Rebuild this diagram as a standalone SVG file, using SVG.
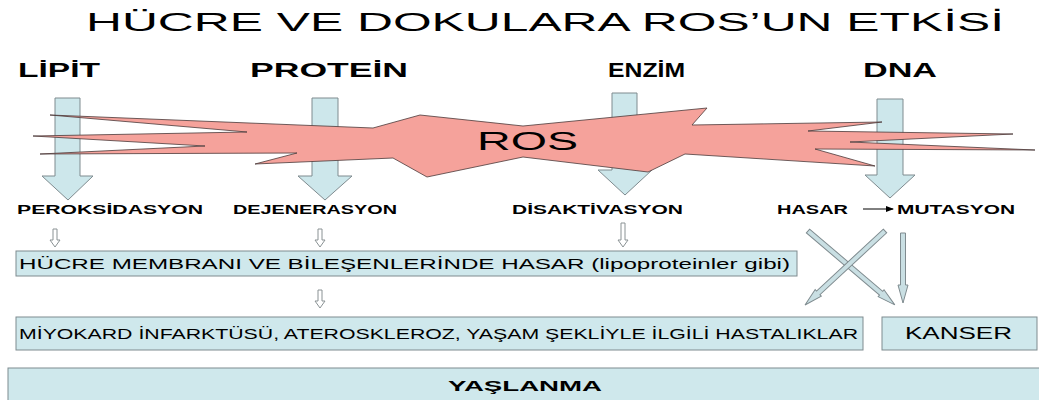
<svg xmlns="http://www.w3.org/2000/svg" width="1039" height="400" viewBox="0 0 1039 400">
<style>
text{font-family:"Liberation Sans",Arial,sans-serif;fill:#000}
.b{font-weight:bold}
.big{fill:#cde7eb;stroke:#7f8b8f;stroke-width:1}
.box{fill:#cfe8ec;stroke:#7f8b8f;stroke-width:1}
.sm{fill:#ffffff;stroke:#8a9294;stroke-width:1}
.dg{fill:#c9dfe3;stroke:#7f8b8f;stroke-width:1}
.ros{fill:#f5a29b;stroke:#4a3a3a;stroke-width:0.8;stroke-linejoin:miter}
</style>
<defs>
<marker id="ah" markerWidth="8" markerHeight="6" refX="7" refY="3" orient="auto" markerUnits="userSpaceOnUse">
<path d="M0,0 L8,3 L0,6 Z" fill="#000"/>
</marker>
</defs>
<rect width="1039" height="400" fill="#ffffff"/>
<text x="86" y="31" font-size="25" textLength="918" lengthAdjust="spacingAndGlyphs">HÜCRE VE DOKULARA ROS’UN ETKİSİ</text>
<g id="lipit">
<text class="b" x="18" y="77" font-size="20" textLength="82" lengthAdjust="spacingAndGlyphs">LİPİT</text>
<polygon class="big" points="55,98 80,98 80,176 93,176 68,200 42,176 55,176"/>
</g>
<g id="protein">
<text class="b" x="250" y="77" font-size="20" textLength="158" lengthAdjust="spacingAndGlyphs">PROTEİN</text>
<polygon class="big" points="312,98 338,98 338,176 352,176 325,200 298,176 312,176"/>
</g>
<g id="enzim">
<text class="b" x="608" y="77" font-size="20" textLength="77" lengthAdjust="spacingAndGlyphs">ENZİM</text>
<polygon class="big" points="612,93 637,93 637,170 652,170 625,195 598,170 612,170"/>
</g>
<g id="dna">
<text class="b" x="863" y="77" font-size="20" textLength="74" lengthAdjust="spacingAndGlyphs">DNA</text>
<polygon class="big" points="877,99 903,99 903,175 915,175 890,198 865,175 877,175"/>
</g>
<g id="ros">
<polygon class="ros" points="50,115 373,128 420,115 523,126 707,108 692,125 882,122 808,131 1013,134 850,142 1035,150 815,149 875,166 685,154 648,172 523,157 427,177 393,158 255,164 297,153 40,154 205,146 33,136 247,132"/>
<text x="477" y="150" font-size="25" textLength="101" lengthAdjust="spacingAndGlyphs">ROS</text>
</g>
<g id="labels">
<text class="b" x="17" y="214" font-size="13" textLength="186" lengthAdjust="spacingAndGlyphs">PEROKSİDASYON</text>
<text class="b" x="233" y="214" font-size="13" textLength="164" lengthAdjust="spacingAndGlyphs">DEJENERASYON</text>
<text class="b" x="512" y="214" font-size="13" textLength="171" lengthAdjust="spacingAndGlyphs">DİSAKTİVASYON</text>
<text class="b" x="777" y="214" font-size="13" textLength="71" lengthAdjust="spacingAndGlyphs">HASAR</text>
<text class="b" x="897" y="214" font-size="13" textLength="118" lengthAdjust="spacingAndGlyphs">MUTASYON</text>
</g>
<g id="box-membran">
<rect class="box" x="16" y="251" width="781" height="25"/>
<text x="19" y="269" font-size="14" textLength="771" lengthAdjust="spacingAndGlyphs">HÜCRE MEMBRANI VE BİLEŞENLERİNDE HASAR (lipoproteinler gibi)</text>
</g>
<g id="box-hastalik">
<rect class="box" x="16" y="317" width="847" height="33"/>
<text x="19" y="339" font-size="14" textLength="839" lengthAdjust="spacingAndGlyphs">MİYOKARD İNFARKTÜSÜ, ATEROSKLEROZ, YAŞAM ŞEKLİYLE İLGİLİ HASTALIKLAR</text>
</g>
<g id="box-kanser">
<rect class="box" x="882" y="317" width="155" height="33"/>
<text x="905" y="339" font-size="16" textLength="107" lengthAdjust="spacingAndGlyphs">KANSER</text>
</g>
<g id="box-yaslanma">
<rect class="box" x="8" y="368" width="1040" height="40"/>
<text class="b" x="448" y="391" font-size="14" textLength="154" lengthAdjust="spacingAndGlyphs">YAŞLANMA</text>
</g>
<g id="connectors">
<line x1="863" y1="209" x2="893" y2="209" stroke="#000" stroke-width="1" marker-end="url(#ah)"/>
<polygon class="sm" points="53,229 57,229 57,240 60,240 55,247 50,240 53,240"/>
<polygon class="sm" points="318,229 322,229 322,240 325,240 320,247 315,240 318,240"/>
<polygon class="sm" points="621,223 625,223 625,240 628,240 623,247 618,240 621,240"/>
<polygon class="sm" points="318,290 322,290 322,301 325,301 320,308 315,301 318,301"/>
<polygon class="dg" transform="translate(808,231) rotate(-49.6)" points="-2.5,0 2.5,0 2.5,96 4.5,96 0,114 -4.5,96 -2.5,96"/>
<polygon class="dg" transform="translate(885,231) rotate(47.2)" points="-2.5,0 2.5,0 2.5,91 4.5,91 0,109 -4.5,91 -2.5,91"/>
<polygon class="dg" points="900.5,233 905.5,233 905.5,285 908,285 903,303 898,285 900.5,285"/>
</g>
</svg>
